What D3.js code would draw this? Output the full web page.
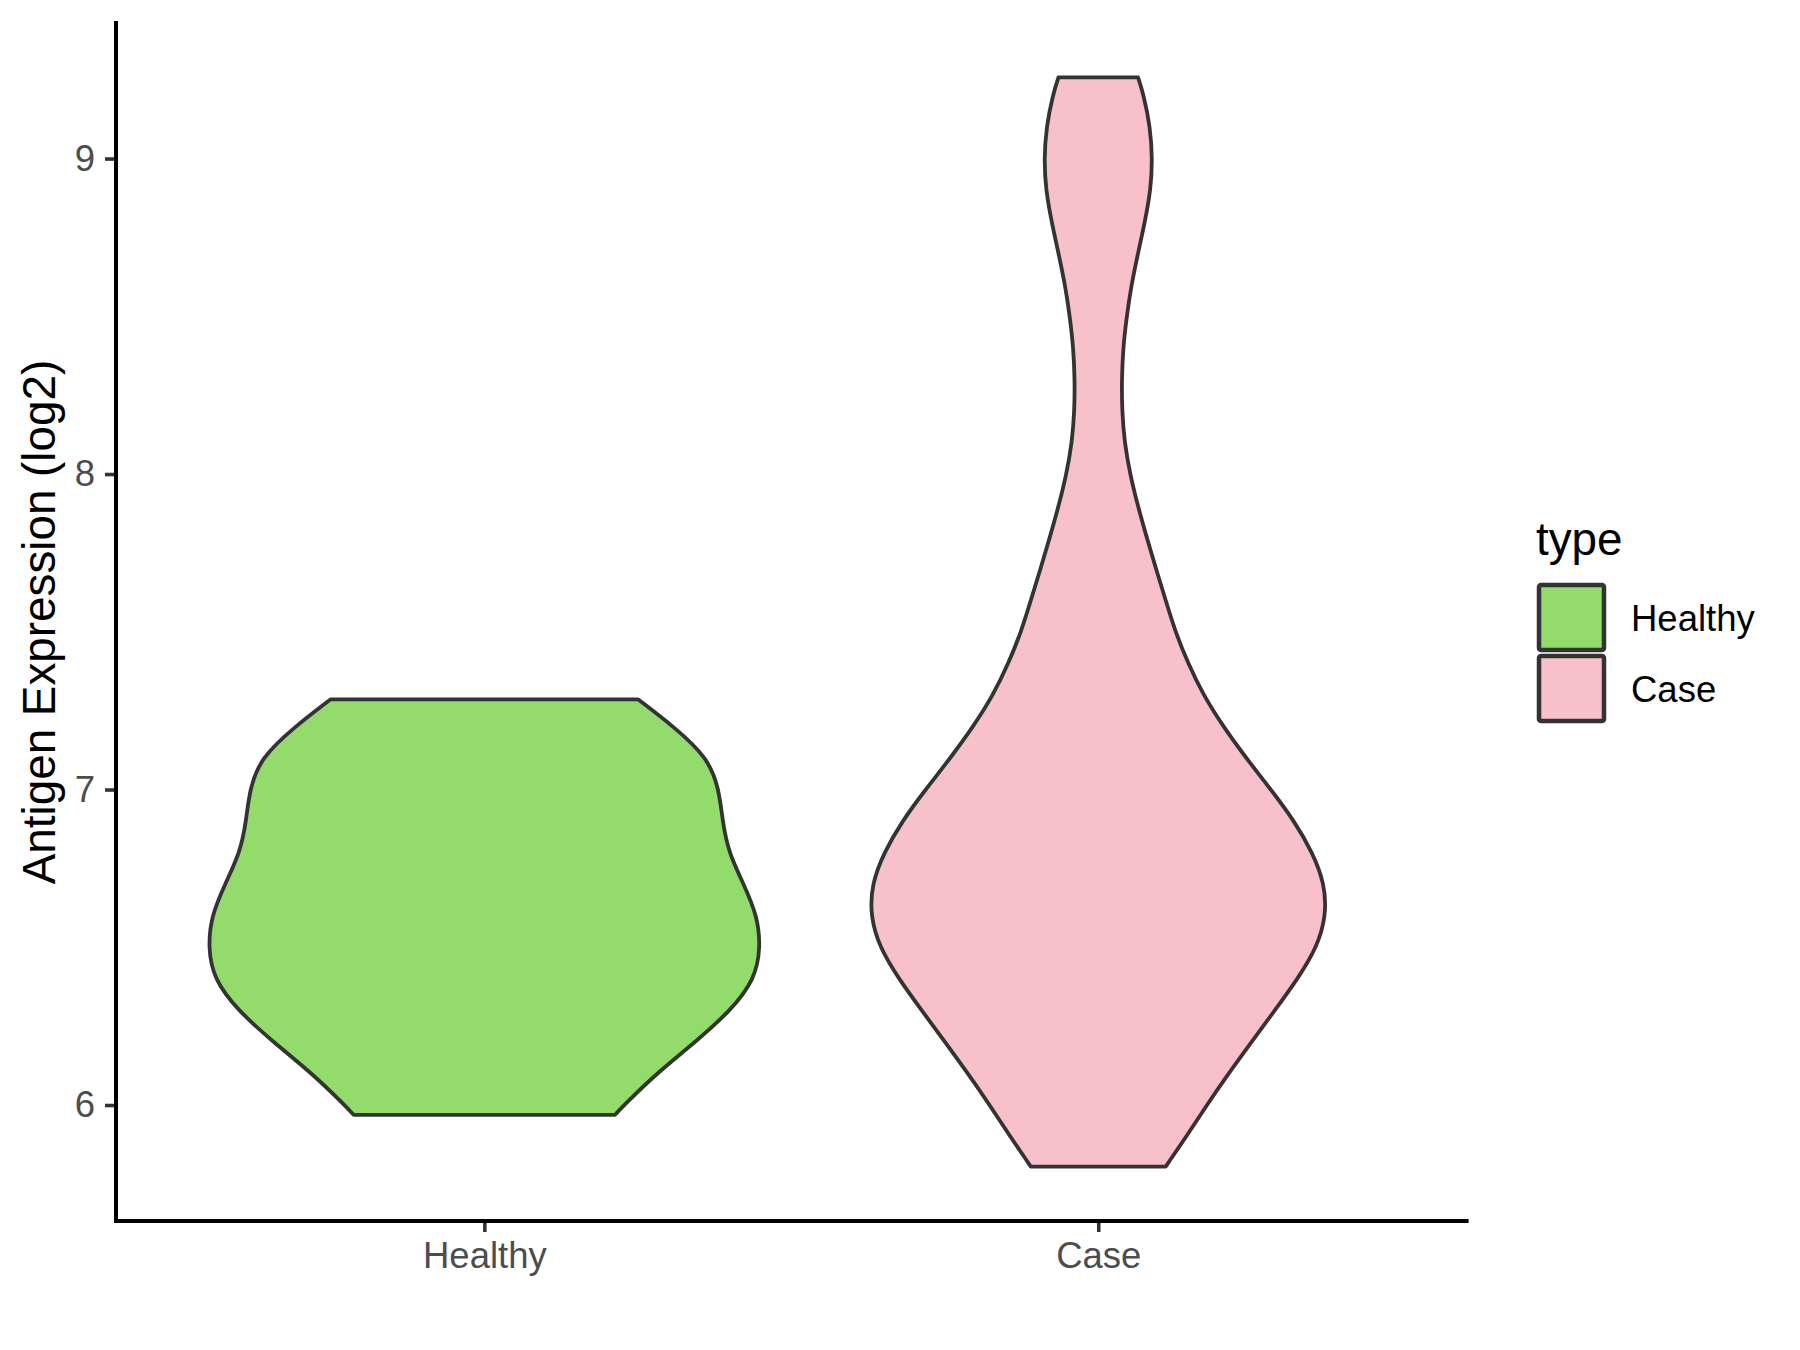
<html>
<head>
    <meta charset="utf-8">
    <title>Antigen Expression</title>
    <style>
        body { margin: 0; background: #fff; }
        text { font-family: "Liberation Sans", Arial, sans-serif; }
    </style>
</head>
<body>
    <svg width="1800" height="1350"></svg>
    <script src="https://d3js.org/d3.v7.min.js"></script>
    <script>
        // groups and violin outlines (value, relative half width)
        var groups = ["Healthy", "Case"];
        var yTicks = [6, 7, 8, 9];

        var healthyValues = [5.969, 6.0, 6.1, 6.2, 6.3, 6.4, 6.5, 6.6, 6.7, 6.8, 6.9, 7.0, 7.1, 7.2, 7.286];
        var healthyDensity = [0.473, 0.506, 0.623, 0.764, 0.893, 0.98, 1.0, 0.988, 0.939, 0.884, 0.862, 0.85, 0.81, 0.685, 0.556];

        var caseValues = [5.805, 5.9, 6.0, 6.1, 6.2, 6.3, 6.4, 6.5, 6.6, 6.7, 6.8, 6.9, 7.0, 7.1, 7.2, 7.3, 7.4, 7.5, 7.6, 7.7, 7.8, 7.9, 8.0, 8.1, 8.2, 8.3, 8.4, 8.5, 8.6, 8.7, 8.8, 8.9, 9.0, 9.1, 9.2, 9.257];
        var caseDensity = [0.244, 0.319, 0.393, 0.472, 0.555, 0.639, 0.722, 0.792, 0.825, 0.82, 0.776, 0.71, 0.625, 0.535, 0.452, 0.38, 0.325, 0.279, 0.244, 0.209, 0.175, 0.143, 0.115, 0.095, 0.086, 0.085, 0.09, 0.103, 0.12, 0.144, 0.169, 0.19, 0.196, 0.188, 0.165, 0.144];

        var violins = [
            { group: "Healthy", values: healthyValues, density: healthyDensity },
            { group: "Case", values: caseValues, density: caseDensity }
        ];

        var svg = d3.select("svg");
        var plotLeft = 116, plotRight = 1466.6, plotTop = 23, plotBottom = 1221;

        var color = d3.scaleOrdinal().domain(groups).range(["#93DB6A", "#F8C0CB"]);

        var x = d3.scalePoint().domain(groups).range([plotLeft, plotRight]).padding(0.6);

        var allValues = healthyValues.concat(caseValues);
        var lo = d3.min(allValues), hi = d3.max(allValues), pad = (hi - lo) * 0.05;
        var y = d3.scaleLinear().domain([lo - pad, hi + pad]).range([plotBottom, plotTop]);

        var w = d3.scaleLinear().domain([0, 1]).range([0, x.step() * 0.45]);

        // violins
        violins.forEach(function (v) {
            var pts = v.values.map(function (val, i) { return { v: val, d: v.density[i] }; });
            var area = d3.area()
                .curve(d3.curveBasis)
                .y(function (p) { return y(p.v); })
                .x0(function (p) { return x(v.group) - w(p.d); })
                .x1(function (p) { return x(v.group) + w(p.d); });
            svg.append("path")
                .datum(pts)
                .attr("d", area)
                .attr("fill", color(v.group))
                .attr("stroke", "#333333")
                .attr("stroke-width", 3.8)
                .attr("stroke-linejoin", "round");
        });

        // y axis
        var yAxis = svg.append("g").attr("transform", "translate(" + plotLeft + ",0)")
            .call(d3.axisLeft(y).tickValues(yTicks).tickSize(11).tickPadding(10).tickFormat(d3.format("d")));
        yAxis.select(".domain").remove();
        yAxis.selectAll(".tick line").attr("stroke", "#333333").attr("stroke-width", 3.6);
        yAxis.selectAll(".tick text").attr("fill", "#4D4D4D").attr("font-size", 36.5)
            .attr("font-family", "Liberation Sans, Arial, sans-serif");

        // x axis
        var xAxis = svg.append("g").attr("transform", "translate(0," + plotBottom + ")")
            .call(d3.axisBottom(x).tickSize(11).tickPadding(10));
        xAxis.select(".domain").remove();
        xAxis.selectAll(".tick line").attr("stroke", "#333333").attr("stroke-width", 3.6);
        xAxis.selectAll(".tick text").attr("fill", "#4D4D4D").attr("font-size", 36.5)
            .attr("font-family", "Liberation Sans, Arial, sans-serif");

        // axis lines
        svg.append("path")
            .attr("d", "M" + plotLeft + "," + plotTop + "V" + plotBottom + "H" + plotRight)
            .attr("fill", "none")
            .attr("stroke", "#000")
            .attr("stroke-width", 4)
            .attr("stroke-linecap", "square");

        // y title
        svg.append("text")
            .attr("transform", "translate(55," + ((plotTop + plotBottom) / 2) + ") rotate(-90)")
            .attr("text-anchor", "middle")
            .attr("font-size", 45.8)
            .attr("fill", "#000")
            .text("Antigen Expression (log2)");

        // legend
        var legend = svg.append("g");
        legend.append("text")
            .attr("x", 1536).attr("y", 555)
            .attr("font-size", 45.8)
            .attr("fill", "#000")
            .text("type");

        var keys = legend.selectAll("g.key").data(groups).enter().append("g").attr("class", "key")
            .attr("transform", function (d, i) { return "translate(1539," + (585 + i * 71) + ")"; });
        keys.append("rect")
            .attr("width", 65).attr("height", 65)
            .attr("fill", function (d) { return color(d); })
            .attr("stroke", "#333333")
            .attr("stroke-width", 4.5)
            .attr("rx", 2);
        keys.append("text")
            .attr("x", 92).attr("y", 33)
            .attr("dy", "0.35em")
            .attr("font-size", 36.5)
            .attr("fill", "#000")
            .text(function (d) { return d; });
    </script>
</body>
</html>
